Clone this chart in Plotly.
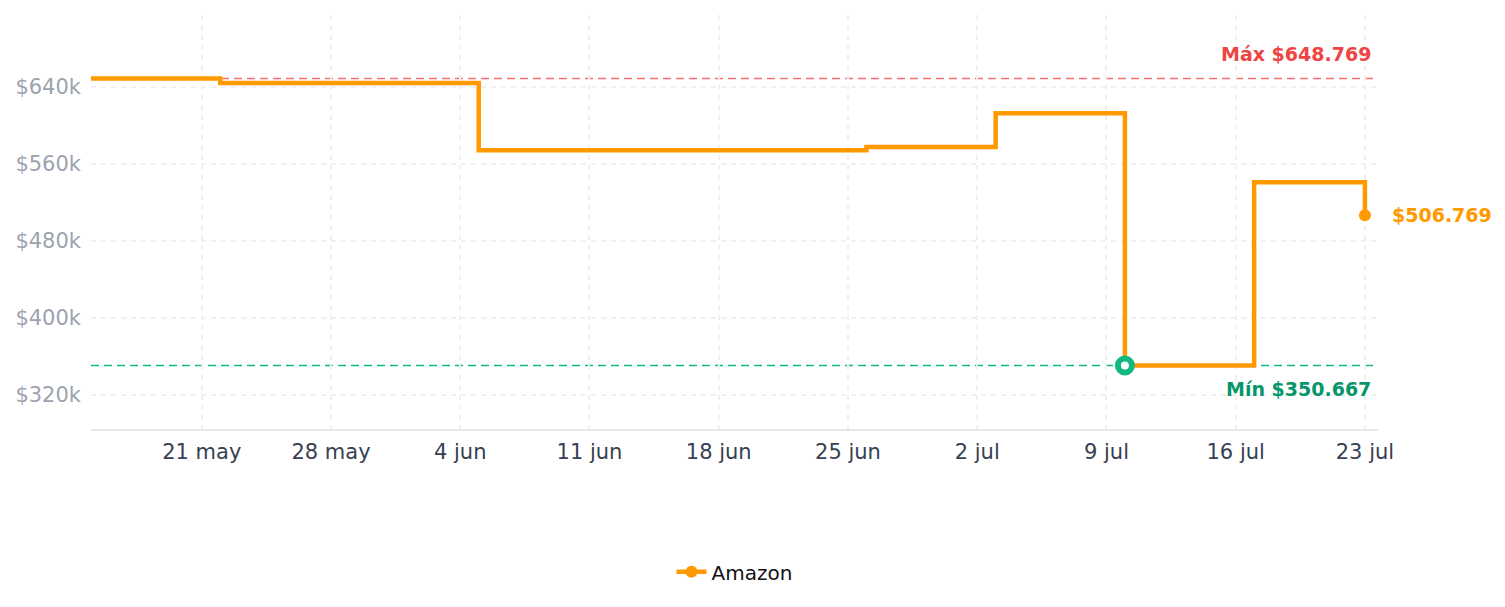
import plotly.graph_objects as go

# Data
dates = ["2025-05-15", "2025-05-22", "2025-06-05", "2025-06-26",
         "2025-07-03", "2025-07-10", "2025-07-17", "2025-07-23"]
prices = [648769, 644200, 574300, 577700, 612800, 350667, 541000, 506769]
series_name = "Amazon"

tick_dates = ["2025-05-21", "2025-05-28", "2025-06-04", "2025-06-11", "2025-06-18",
              "2025-06-25", "2025-07-02", "2025-07-09", "2025-07-16", "2025-07-23"]
tick_labels = ["21 may", "28 may", "4 jun", "11 jun", "18 jun",
               "25 jun", "2 jul", "9 jul", "16 jul", "23 jul"]
y_ticks = [320000, 400000, 480000, 560000, 640000]
y_tick_labels = ["$320k", "$400k", "$480k", "$560k", "$640k"]

max_price = max(prices)
min_price = min(prices)
min_date = dates[prices.index(min_price)]
last_date, last_price = dates[-1], prices[-1]

ORANGE = "#ff9900"
RED = "#f87171"
RED_TXT = "#ef4444"
GREEN = "#10b981"
GREEN_TXT = "#059669"
GRID = "#f0f0f0"
FONT = "DejaVu Sans"

fig = go.Figure()

fig.add_trace(go.Scatter(
    x=dates, y=prices, mode="lines", name=series_name,
    line=dict(color=ORANGE, width=4.5, shape="hv"),
    showlegend=False, hoverinfo="skip",
))
fig.add_trace(go.Scatter(
    x=[last_date], y=[last_price], mode="markers", showlegend=False,
    marker=dict(color=ORANGE, size=12, opacity=1), hoverinfo="skip",
))
fig.add_trace(go.Scatter(
    x=[None], y=[None], mode="lines+markers", name=series_name,
    line=dict(color=ORANGE, width=4.5),
    marker=dict(color=ORANGE, size=12),
))
fig.add_trace(go.Scatter(
    x=[min_date], y=[min_price], mode="markers", showlegend=False,
    marker=dict(color="white", size=14, line=dict(color=GREEN, width=6), opacity=1),
    hoverinfo="skip",
))

fig.add_shape(type="line", xref="paper", x0=0, x1=1, yref="y", layer="below",
              y0=max_price, y1=max_price, line=dict(color=RED, width=1.5, dash="8px,5px"))
fig.add_shape(type="line", xref="paper", x0=0, x1=1, yref="y", layer="below",
              y0=min_price, y1=min_price, line=dict(color=GREEN, width=1.5, dash="8px,5px"))

fig.add_annotation(x=last_date, y=max_price, xref="x", yref="y",
                   text="<b>Máx $648.769</b>", showarrow=False,
                   xanchor="right", yanchor="bottom", xshift=8, yshift=12,
                   font=dict(family=FONT, size=19, color=RED_TXT))
fig.add_annotation(x=last_date, y=min_price, xref="x", yref="y",
                   text="<b>Mín $350.667</b>", showarrow=False,
                   xanchor="right", yanchor="top", xshift=8, yshift=-10,
                   font=dict(family=FONT, size=19, color=GREEN_TXT))
fig.add_annotation(x=last_date, y=last_price, xref="x", yref="y",
                   text="<b>$506.769</b>", showarrow=False,
                   xanchor="left", yanchor="middle", xshift=25,
                   font=dict(family=FONT, size=19, color=ORANGE))

fig.update_layout(
    width=1505, height=607,
    margin=dict(l=91, r=127, t=15, b=178),
    paper_bgcolor="white", plot_bgcolor="white",
    font=dict(family=FONT, size=20, color="#374151"),
    legend=dict(orientation="h", x=0.5, xanchor="center", y=-0.345, yanchor="middle",
                font=dict(family=FONT, size=20, color="#111111")),
    xaxis=dict(
        type="date", range=["2025-05-15", "2025-07-23 17:00"],
        tickvals=tick_dates, ticktext=tick_labels,
        tickfont=dict(family=FONT, size=21, color="#374151"),
        ticklabelstandoff=3,
        showgrid=True, gridcolor=GRID, griddash="5px,5px", gridwidth=2,
        showline=True, linecolor="#e5e7eb", linewidth=2,
        ticks="", zeroline=False,
    ),
    yaxis=dict(
        range=[284700, 714800],
        tickvals=y_ticks, ticktext=y_tick_labels,
        tickfont=dict(family=FONT, size=21, color="#9ca3af"),
        ticklabelstandoff=9,
        showgrid=True, gridcolor=GRID, griddash="5px,5px", gridwidth=2,
        showline=False, ticks="", zeroline=False,
    ),
)

fig.write_html("out.html")
